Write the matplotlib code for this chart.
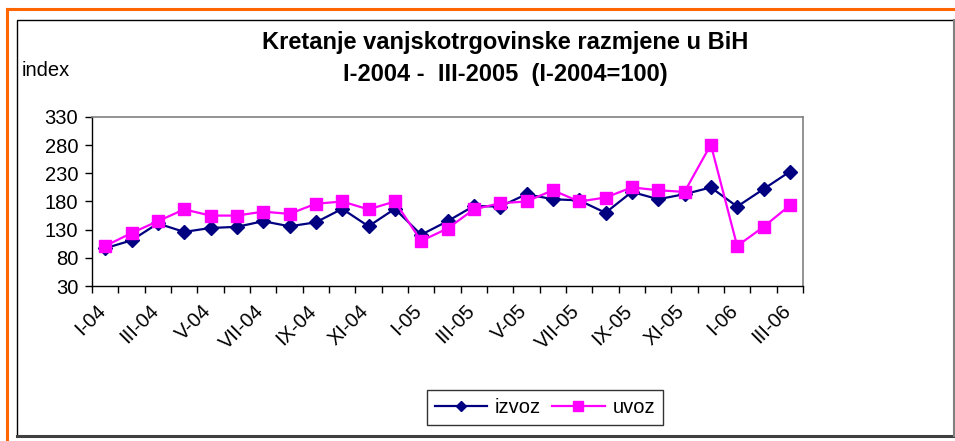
import matplotlib
matplotlib.use("Agg")
import matplotlib.pyplot as plt
from matplotlib.lines import Line2D
from matplotlib.patches import Rectangle

plt.rcParams['font.family'] = ['Liberation Sans', 'DejaVu Sans']

months = ["I-04", "II-04", "III-04", "IV-04", "V-04", "VI-04", "VII-04", "VIII-04", "IX-04",
          "X-04", "XI-04", "XII-04", "I-05", "II-05", "III-05", "IV-05", "V-05", "VI-05",
          "VII-05", "VIII-05", "IX-05", "X-05", "XI-05", "XII-05", "I-06", "II-06", "III-06"]
izvoz = [97, 111, 141, 126, 133, 135, 145, 136, 143, 167, 136, 167, 121, 145, 172,
         171, 193, 184, 182, 160, 197, 184, 193, 205, 171, 202, 233]
uvoz = [101, 124, 145, 166, 155, 155, 162, 158, 176, 180, 166, 180, 110, 132, 166,
        177, 180, 200, 180, 187, 205, 200, 197, 281, 101, 135, 173]
yticks = [30, 80, 130, 180, 230, 280, 330]

NAVY = '#000080'
MAGENTA = '#FF00FF'
FS = 14.5

W, H = 955, 441
fig = plt.figure(figsize=(W / 100, H / 100), dpi=100)
fig.patch.set_facecolor('white')

# outer decorations
fig.add_artist(Line2D([7 / W, 7 / W], [0, 1 - 9 / H], color='#FF6600', lw=2.2))
fig.add_artist(Line2D([7 / W, 1], [1 - 9 / H, 1 - 9 / H], color='#FF6600', lw=2.2))
fig.add_artist(Rectangle((17 / W, 1 - 436 / H), (954 - 17) / W, (436 - 20) / H,
                         fill=False, edgecolor='black', lw=1.0))
fig.add_artist(Line2D([17 / W, 1], [1 - 436 / H, 1 - 436 / H], color='#404040', lw=2.2))
fig.add_artist(Line2D([953.5 / W, 953.5 / W], [1 - 436 / H, 1 - 20 / H], color='#808080', lw=1.5))

ax = fig.add_axes([92 / W, 1 - 286 / H, (803 - 92) / W, (286 - 117) / H])
x = list(range(len(months)))
ax.plot(x, izvoz, color=NAVY, lw=1.6, marker='D', ms=6.8, zorder=3)
ax.plot(x, uvoz, color=MAGENTA, lw=1.6, marker='s', ms=8, zorder=3)

ax.set_xlim(-0.5, len(months) - 0.5)
ax.set_ylim(30, 330)
ax.set_yticks(yticks)
ax.set_yticklabels([str(v) for v in yticks], fontsize=FS)
ax.tick_params(axis='y', direction='out', length=5, width=1, color='black', pad=5)

ax.set_xticks([i - 0.35 for i in x[::2]])
ax.set_xticklabels(months[::2], rotation=45, ha='right', rotation_mode='anchor', fontsize=FS)
ax.tick_params(axis='x', which='major', length=0, pad=11)
ax.set_xticks([i - 0.5 for i in range(len(months) + 1)], minor=True)
ax.tick_params(axis='x', which='minor', direction='out', length=5, width=1, color='black')

for s in ['top', 'right']:
    ax.spines[s].set_color('#808080')
    ax.spines[s].set_linewidth(1.2)
for s in ['left', 'bottom']:
    ax.spines[s].set_color('black')
    ax.spines[s].set_linewidth(1.0)

fig.text(505 / W, 1 - 42 / H, "Kretanje vanjskotrgovinske razmjene u BiH", ha='center', va='center',
         fontsize=17, fontweight='bold')
fig.text(505 / W, 1 - 74 / H, "I-2004 -  III-2005  (I-2004=100)", ha='center', va='center',
         fontsize=17, fontweight='bold')
fig.text(22 / W, 1 - 70 / H, "index", ha='left', va='center', fontsize=FS)

handles = [Line2D([], [], color=NAVY, lw=1.6, marker='D', ms=5.2),
           Line2D([], [], color=MAGENTA, lw=1.6, marker='s', ms=7)]
leg = fig.legend(handles, ['izvoz', 'uvoz'], loc='center', bbox_to_anchor=(545 / W, 1 - 407.5 / H),
                 ncol=2, fontsize=FS, frameon=True, fancybox=False, edgecolor='black',
                 handlelength=2.6, columnspacing=0.55, handletextpad=0.4, borderpad=0.4)
leg.get_frame().set_linewidth(1.0)

fig.savefig('out.png', dpi=100, facecolor='white')
